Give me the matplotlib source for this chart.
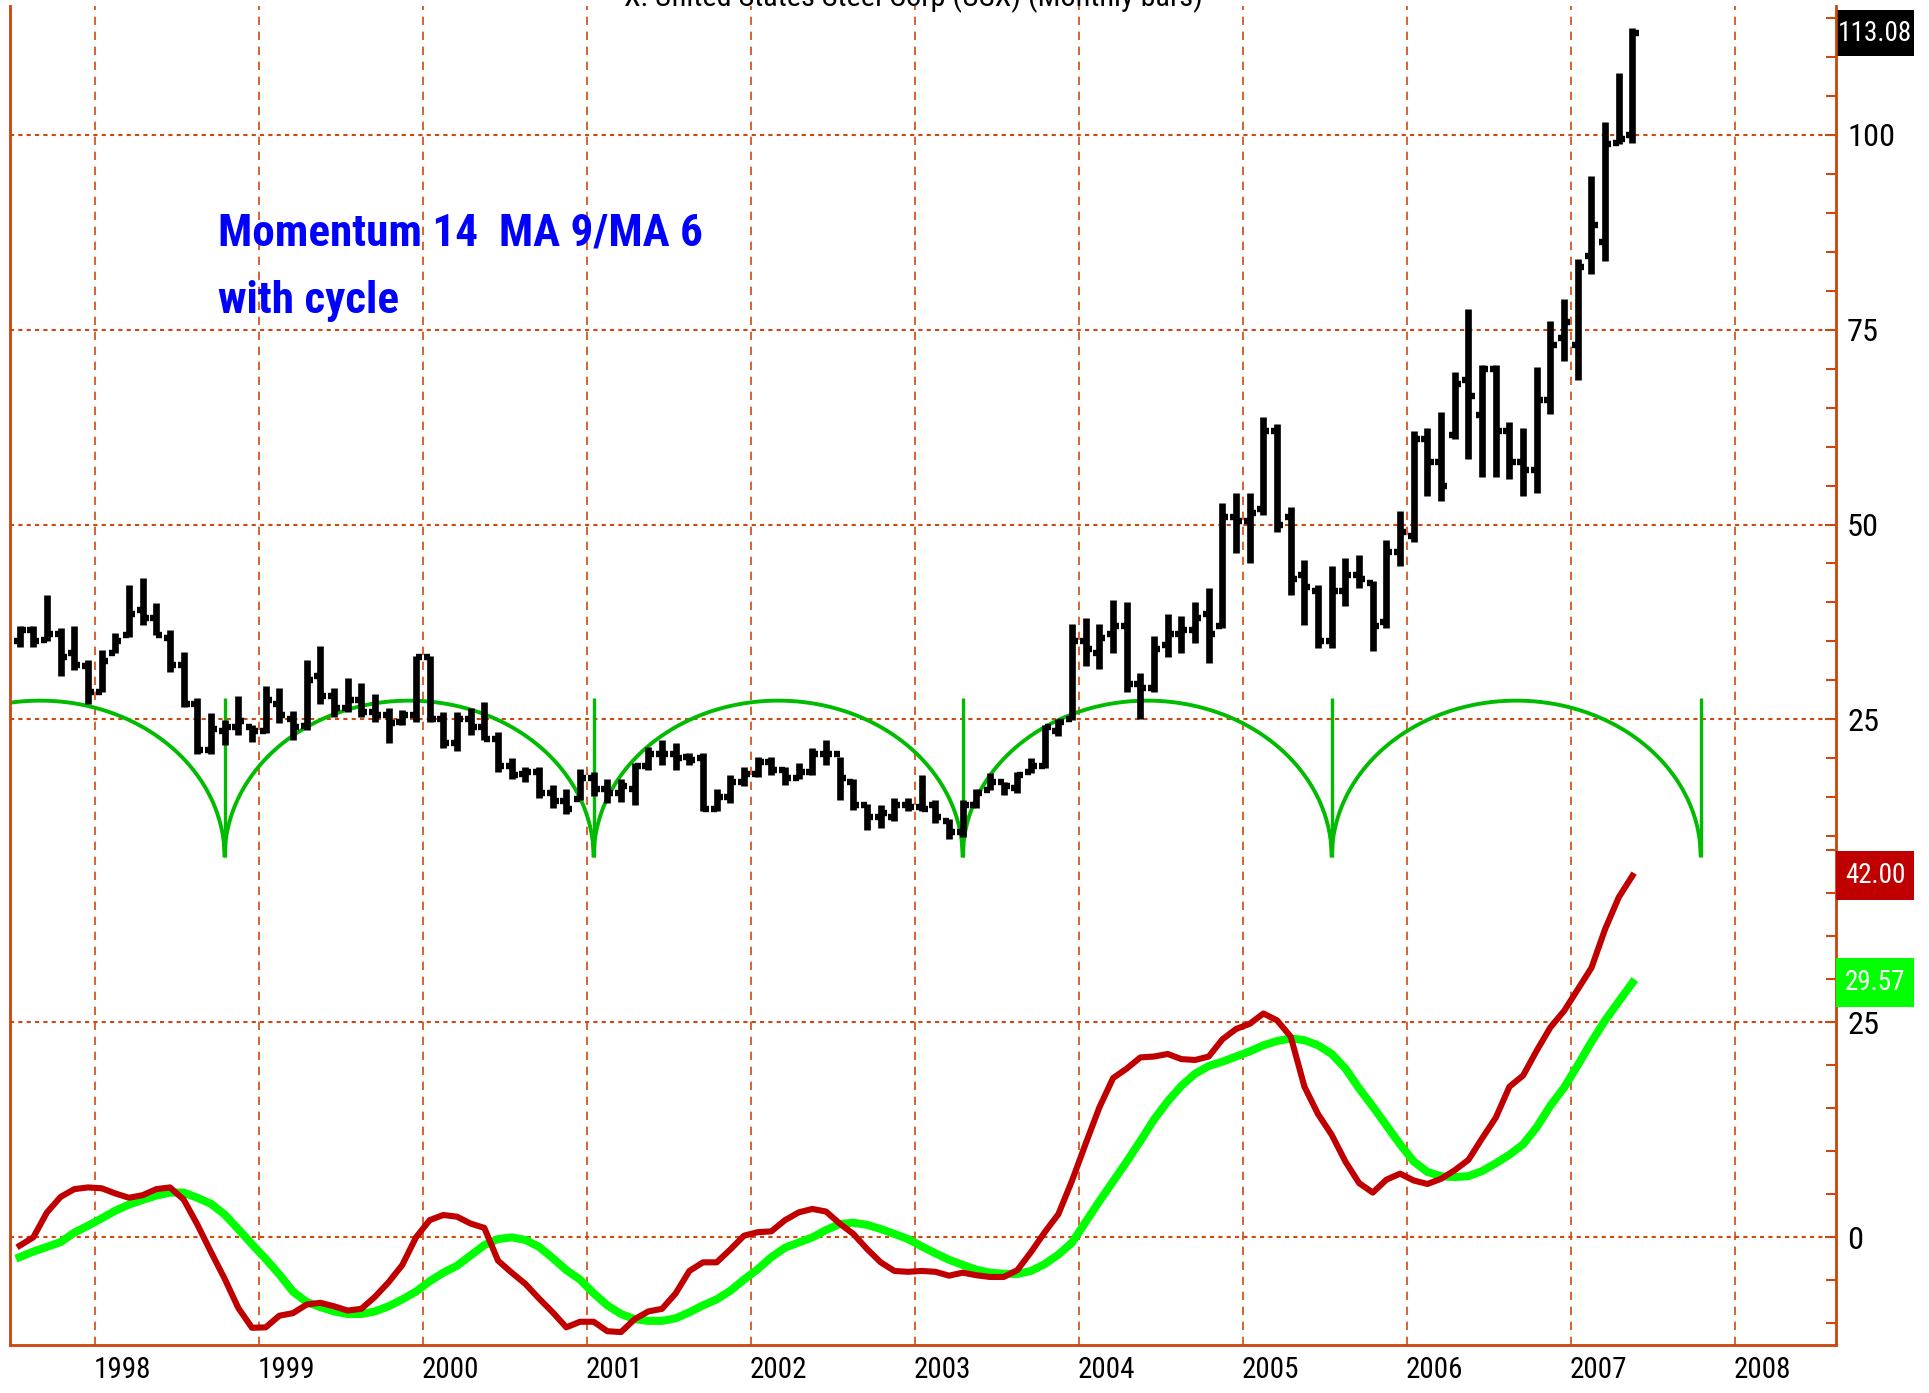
import os
import matplotlib
matplotlib.use('Agg')
import numpy as np
import matplotlib.pyplot as plt
from matplotlib import font_manager
from matplotlib.font_manager import FontProperties
from matplotlib.patches import Rectangle
from matplotlib.transforms import blended_transform_factory

# Monthly bars, month index counted from Jan 1998 (first bar = Jul 1997)
first_month = -6

bar_high = [37.0, 37.0, 41.0, 36.7, 37.0, 32.6, 33.9, 36.1, 42.2, 43.2,
            39.9, 36.5, 33.6, 27.7, 25.8, 24.9, 28.0, 24.3, 29.3, 29.0,
            26.1, 32.6, 34.4, 29.0, 30.3, 29.7, 28.2, 26.4, 26.2, 33.1,
            33.1, 25.9, 26.0, 26.4, 27.2, 23.4, 20.0, 18.9, 18.9, 16.6,
            16.1, 18.6, 18.2, 17.3, 17.3, 19.4, 21.4, 22.3, 22.0, 20.7,
            20.7, 16.0, 17.9, 18.9, 20.2, 20.2, 18.9, 19.4, 21.3, 22.3,
            20.2, 17.3, 14.1, 14.0, 14.9, 14.9, 17.9, 14.7, 12.2, 14.6,
            16.0, 18.1, 17.0, 18.3, 20.1, 24.3, 25.1, 37.2, 38.0, 37.2,
            40.3, 40.1, 31.0, 35.7, 38.5, 38.3, 40.1, 41.9, 52.7, 54.0,
            54.0, 63.8, 62.9, 52.2, 45.4, 42.3, 44.7, 45.7, 46.1, 42.7,
            48.0, 51.7, 62.0, 62.4, 64.5, 69.6, 77.6, 70.5, 70.5, 63.2,
            62.4, 70.2, 76.1, 79.0, 84.1, 94.7, 101.6, 108.0, 113.7]
bar_low = [34.3, 34.3, 35.0, 30.5, 31.3, 27.0, 28.5, 33.5, 35.6, 37.1,
           35.8, 31.1, 26.6, 20.6, 20.6, 21.7, 23.0, 22.1, 23.2, 24.5,
           22.3, 23.6, 27.0, 25.3, 26.0, 25.3, 24.7, 21.9, 24.3, 24.7,
           24.7, 21.3, 20.9, 23.0, 22.3, 18.3, 17.4, 17.0, 14.9, 13.6,
           12.9, 14.6, 15.1, 14.2, 14.4, 14.0, 18.5, 19.1, 18.5, 19.1,
           13.2, 13.2, 14.2, 16.4, 17.6, 17.9, 16.6, 17.3, 17.9, 19.1,
           14.6, 13.4, 10.8, 11.0, 11.9, 13.2, 13.2, 11.7, 9.7, 9.9,
           13.6, 15.9, 15.3, 15.5, 18.1, 18.8, 22.8, 24.9, 31.8, 31.5,
           33.5, 28.5, 25.1, 28.5, 33.0, 33.5, 34.8, 32.2, 36.7, 46.3,
           45.1, 51.2, 49.0, 41.0, 37.1, 34.1, 34.1, 39.5, 41.8, 33.8,
           36.7, 44.7, 47.8, 53.6, 53.0, 61.0, 58.4, 56.1, 56.1, 55.9,
           53.6, 54.1, 64.2, 71.0, 68.5, 82.2, 83.8, 98.9, 99.0]
bar_open = [35.0, 36.5, 35.2, 36.0, 33.5, 31.8, 28.5, 33.5, 35.8, 39.0,
            38.0, 35.5, 32.0, 27.0, 21.0, 23.5, 24.0, 24.0, 23.5, 27.0,
            25.0, 24.2, 30.5, 28.0, 26.5, 27.5, 26.0, 25.5, 24.7, 25.5,
            33.0, 25.0, 22.0, 25.0, 24.0, 22.5, 19.0, 18.0, 18.3, 15.5,
            14.5, 14.8, 17.5, 16.0, 15.5, 16.0, 19.0, 20.5, 20.5, 20.2,
            20.0, 13.5, 15.0, 17.0, 18.0, 19.5, 18.5, 17.5, 18.3, 20.5,
            20.5, 17.0, 14.0, 12.5, 12.5, 14.0, 13.8, 14.0, 12.0, 10.5,
            14.0, 15.9, 17.0, 16.2, 18.2, 19.0, 23.5, 25.0, 35.0, 33.5,
            36.0, 37.0, 29.5, 29.0, 34.5, 36.0, 36.5, 38.5, 37.0, 51.0,
            50.5, 52.0, 62.0, 51.0, 43.5, 41.5, 35.0, 41.5, 43.5, 42.5,
            37.5, 46.5, 48.5, 61.0, 58.0, 61.5, 68.5, 64.0, 70.0, 62.0,
            58.0, 57.0, 66.0, 74.0, 73.0, 84.5, 86.2, 99.0, 100.0]
bar_close = [36.5, 35.0, 36.0, 33.0, 32.0, 28.5, 32.5, 35.0, 38.5, 38.0,
             35.8, 32.0, 27.0, 21.0, 23.8, 24.0, 24.8, 23.5, 27.5, 25.5,
             24.0, 30.0, 28.0, 26.5, 27.5, 26.0, 25.5, 24.5, 25.5, 33.0,
             25.0, 22.0, 25.0, 24.0, 22.5, 19.0, 17.8, 18.3, 15.5, 14.5,
             13.5, 17.5, 16.0, 15.5, 16.5, 19.0, 20.5, 20.5, 20.0, 19.8,
             13.5, 15.0, 17.0, 18.0, 19.5, 18.5, 17.5, 18.3, 20.5, 20.5,
             17.5, 14.0, 12.5, 13.0, 14.0, 13.8, 13.5, 12.5, 10.5, 14.0,
             15.5, 17.0, 16.5, 17.8, 19.0, 24.0, 24.7, 35.0, 34.0, 35.5,
             37.0, 29.5, 29.0, 34.0, 36.0, 36.5, 38.0, 36.0, 51.0, 50.5,
             51.5, 62.0, 50.0, 43.0, 42.0, 35.0, 41.5, 43.5, 43.0, 37.0,
             46.5, 49.0, 61.0, 58.0, 55.0, 68.0, 66.5, 70.0, 62.0, 58.0,
             57.0, 66.0, 73.0, 76.0, 83.0, 88.5, 98.8, 99.5, 113.08]

# Momentum 14 smoothed: MA 9 (red) and MA 6 (green)
mom_red = [-0.97, 0.0, 2.9, 4.7, 5.6, 5.8, 5.7, 5.1, 4.6, 4.9,
           5.6, 5.8, 4.4, 1.5, -1.7, -4.8, -8.2, -10.5, -10.45, -9.1,
           -8.8, -7.8, -7.6, -8.0, -8.5, -8.3, -6.9, -5.2, -3.2, 0.0,
           2.0, 2.6, 2.4, 1.6, 1.1, -2.7, -4.1, -5.4, -7.1, -8.7,
           -10.45, -9.8, -9.8, -10.9, -11.0, -9.5, -8.6, -8.3, -6.5, -3.9,
           -2.9, -2.9, -1.4, 0.2, 0.6, 0.7, 2.0, 2.9, 3.3, 3.0,
           1.6, 0.4, -1.35, -2.9, -3.9, -4.0, -3.9, -4.0, -4.45, -4.1,
           -4.4, -4.6, -4.6, -3.8, -1.7, 0.6, 2.7, 6.6, 10.9, 15.1,
           18.5, 19.6, 20.9, 21.0, 21.3, 20.7, 20.6, 21.0, 23.0, 24.2,
           24.8, 26.0, 25.2, 23.3, 17.5, 14.3, 11.9, 8.8, 6.3, 5.2,
           6.7, 7.4, 6.6, 6.2, 6.8, 7.8, 9.0, 11.5, 13.9, 17.5,
           18.8, 21.7, 24.4, 26.3, 28.8, 31.3, 35.8, 39.5, 42.0]
mom_green = [-2.3, -1.65, -1.1, -0.55, 0.55, 1.35, 2.2, 3.1, 3.8, 4.35,
             4.85, 5.2, 5.2, 4.6, 3.9, 2.65, 0.95, -0.8, -2.5, -4.3,
             -6.3, -7.5, -8.1, -8.6, -8.9, -8.9, -8.6, -8.0, -7.2, -6.3,
             -5.1, -4.1, -3.3, -2.1, -0.9, -0.2, 0.0, -0.3, -1.1, -2.4,
             -3.8, -4.9, -6.5, -7.9, -8.9, -9.5, -9.7, -9.7, -9.4, -8.7,
             -7.9, -7.2, -6.2, -4.9, -3.7, -2.3, -1.2, -0.6, 0.0, 0.85,
             1.55, 1.7, 1.45, 0.97, 0.4, -0.2, -1.05, -1.85, -2.6, -3.2,
             -3.75, -4.1, -4.22, -4.25, -3.9, -3.1, -2.0, -0.6, 1.8, 4.2,
             6.5, 8.8, 11.2, 13.7, 15.8, 17.6, 19.0, 19.9, 20.4, 21.0,
             21.6, 22.3, 22.8, 23.1, 22.9, 22.3, 21.3, 19.6, 17.3, 15.2,
             13.0, 10.8, 8.8, 7.6, 7.1, 7.0, 7.1, 7.7, 8.6, 9.6,
             10.8, 12.8, 15.3, 17.4, 20.0, 22.7, 25.2, 27.4, 29.57]

# Cycle lows (month index from Jan 1998), 27-month cycle
cycle_troughs = [9, 36, 63, 90, 117]
cycle_low = 7.3
cycle_high = 27.4

years = list(range(1998, 2009))
price_ticks = [25, 50, 75, 100]
mom_ticks = [0, 25]

grid_col = '#CC4A12'
red_col = '#C00000'
green_col = '#00FF00'
cycle_col = '#00BB00'


def find_font(files):
    for name in files:
        for f in font_manager.fontManager.ttflist:
            if os.path.basename(f.fname).lower() == name.lower():
                return f.fname
    return None


reg_file = find_font(['LiberationSansNarrow-Regular.ttf', 'RobotoCondensed-Regular.ttf',
                      'OpenSans-CondensedRegular.ttf', 'DejaVuSansCondensed.ttf',
                      'LiberationSans-Regular.ttf'])
bold_file = find_font(['LiberationSansNarrow-Bold.ttf', 'RobotoCondensed-Bold.ttf',
                       'OpenSans-CondensedBold.ttf', 'DejaVuSansCondensed-Bold.ttf',
                       'LiberationSans-Bold.ttf'])
fp_reg = FontProperties(fname=reg_file) if reg_file else FontProperties(family='Liberation Sans')
fp_bold = FontProperties(fname=bold_file) if bold_file else FontProperties(family='Liberation Sans', weight='bold')

fig = plt.figure(figsize=(19.29, 13.93), dpi=100)
W, H = 1929, 1393
AX_W, AX_H = 1826, 1339
ax = fig.add_axes([10 / W, 48 / H, AX_W / W, AX_H / H])
ax2 = ax.twinx()
renderer = fig.canvas.get_renderer()


def size_for(s, fp, target_px):
    t = fig.text(0, 0, s, fontproperties=fp, fontsize=20)
    w = t.get_window_extent(renderer).width
    t.remove()
    return 20 * target_px / w


ax.set_xlim(1997.483, 2008.616)
ax.set_ylim(-55.3, 116.55)
ax2.set_ylim(-12.5, 143.0)

# bar positions in decimal years
n = len(bar_high)
xb = 1998 + (np.arange(n) + first_month + 0.5) / 12.0

# grid
for y in years:
    ax.axvline(y, color=grid_col, lw=1.2, ls=(0, (5, 4)), zorder=0)
for p in price_ticks:
    ax.axhline(p, color=grid_col, lw=1.5, ls=(0, (2, 2)), zorder=0)
for m in mom_ticks:
    ax2.axhline(m, color=grid_col, lw=1.5, ls=(0, (2, 2)), zorder=0)

# cycle arcs (semi-ellipses between lows)
half = 27 / 24.0
lows = [cycle_troughs[0] - 27] + cycle_troughs
for a in lows[:-1]:
    xc = 1998 + (a + 0.5) / 12.0 + half
    t = np.linspace(-1, 1, 400)
    ax.plot(xc + t * half, cycle_low + (cycle_high - cycle_low) * np.sqrt(1 - t ** 2),
            color=cycle_col, lw=2.8, zorder=2, solid_capstyle='butt')
for c in cycle_troughs:
    xt = 1998 + (c + 0.5) / 12.0
    ax.vlines(xt, cycle_low, cycle_high + 0.3, color=cycle_col, lw=2.4, zorder=2)

# OHLC bars
tick = 0.037
ax.vlines(xb, bar_low, bar_high, color='black', lw=4.8, zorder=3)
ax.hlines(bar_open, xb - tick, xb, color='black', lw=4.6, zorder=3)
ax.hlines(bar_close, xb, xb + tick, color='black', lw=4.6, zorder=3)

# momentum lines
ax2.plot(xb, mom_green, color=green_col, lw=5.8, zorder=4)
ax2.plot(xb, mom_red, color=red_col, lw=4.4, zorder=5)

# axes styling
for a in (ax, ax2):
    a.spines['top'].set_visible(False)
    for s in ('left', 'right', 'bottom'):
        a.spines[s].set_color(grid_col)
        a.spines[s].set_linewidth(1.8)
    a.patch.set_visible(False)

lab_size = size_for('100', fp_reg, 48)
ax.yaxis.tick_right()
ax.set_yticks(price_ticks)
ax.set_yticks(np.arange(10, 116, 5), minor=True)
ax2.set_yticks(mom_ticks)
ax2.set_yticks(np.arange(-10, 46, 5), minor=True)
for a in (ax, ax2):
    a.tick_params(axis='y', which='both', direction='in', right=True, left=False,
                  colors=grid_col, labelcolor='black', pad=8)
    a.tick_params(axis='y', which='major', length=8, width=1.5)
    a.tick_params(axis='y', which='minor', length=7, width=1.5)
    for lbl in a.get_yticklabels():
        lbl.set_fontproperties(fp_reg)
        lbl.set_fontsize(lab_size)

year_size = size_for('1998', fp_reg, 57)
ax.set_xticks([y + 0.17 for y in years])
ax.set_xticklabels([str(y) for y in years])
ax.tick_params(axis='x', length=0, pad=8)
for lbl in ax.get_xticklabels():
    lbl.set_fontproperties(fp_reg)
    lbl.set_fontsize(year_size)

# last value boxes (box drawn as a patch, value text fitted inside)
box_w = 78 / AX_W
box_size = size_for('113.08', fp_reg, 74)
boxes = [(ax, bar_close[-1], 'black', 46), (ax2, mom_red[-1], red_col, 49),
         (ax2, mom_green[-1], green_col, 49)]
for a, val, col, h_px in boxes:
    trb = blended_transform_factory(a.transAxes, a.transData)
    y0, y1 = a.get_ylim()
    h_dat = h_px / AX_H * (y1 - y0)
    a.add_patch(Rectangle((1.0, val - h_dat / 2), box_w, h_dat, transform=trb,
                          fc=col, ec='none', clip_on=False, zorder=6))
    a.text(1.0 + box_w / 2, val, '%.2f' % val, transform=trb, ha='center', va='center',
           color='white', fontproperties=fp_reg, fontsize=box_size, clip_on=False, zorder=7)

# annotation text
blue_size = size_for('Momentum 14  MA 9/MA 6', fp_bold, 484)
ax.text((218 - 10) / AX_W, 1 - (234 - 6) / AX_H, 'Momentum 14  MA 9/MA 6',
        transform=ax.transAxes, color='#0000FF', fontproperties=fp_bold,
        fontsize=blue_size, ha='left', va='center')
ax.text((218 - 10) / AX_W, 1 - (301 - 6) / AX_H, 'with cycle',
        transform=ax.transAxes, color='#0000FF', fontproperties=fp_bold,
        fontsize=blue_size, ha='left', va='center')

# title (cut off at the top edge, as in the source)
title = 'X: United States Steel Corp (USX) (Monthly bars)'
fig.text(913 / W, 1 - 6 / H, title, ha='center', va='baseline', fontproperties=fp_reg,
         fontsize=size_for(title, fp_reg, 575))

fig.savefig('out.png', dpi=100)
